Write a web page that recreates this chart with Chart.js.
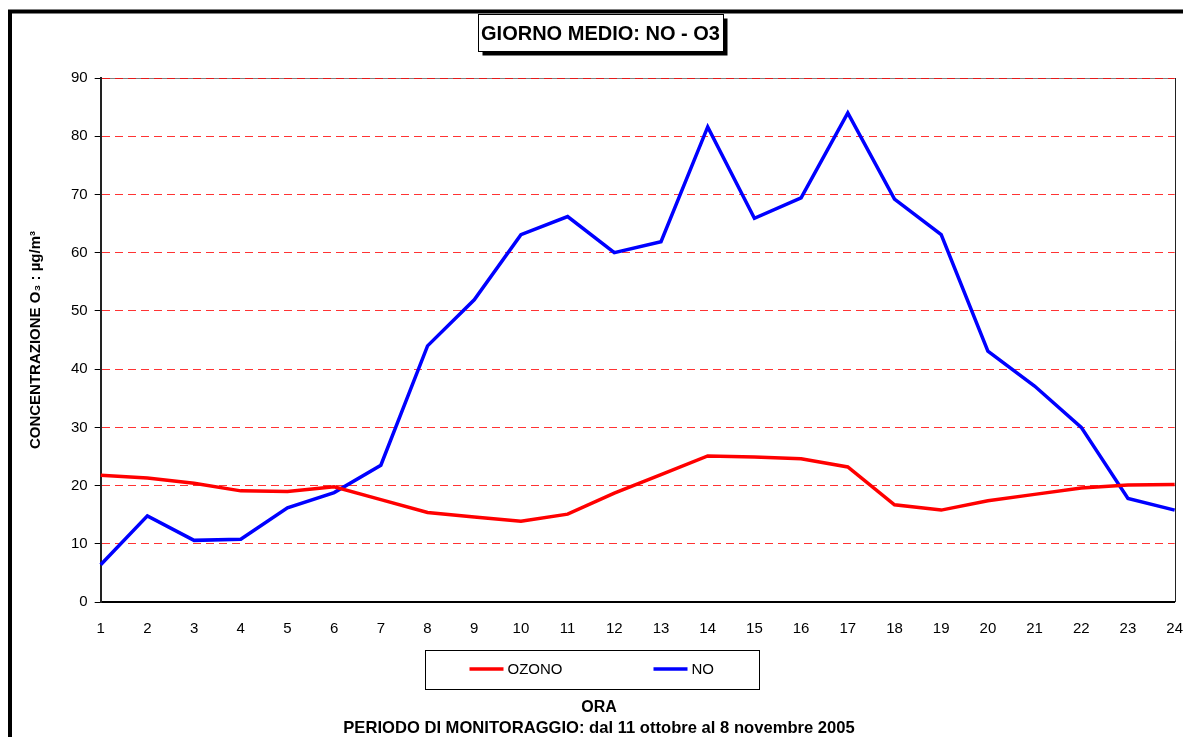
<!DOCTYPE html>
<html>
<head>
<meta charset="utf-8">
<script src="https://cdn.jsdelivr.net/npm/chart.js@4.4.0/dist/chart.umd.min.js"></script>
<style>
    html, body { margin: 0; padding: 0; background: #fff; }
</style>
</head>
<body>
<canvas id="line-chart" width="1183" height="737"></canvas>
<script>
// ore del giorno (asse x)
var ore = ['1','2','3','4','5','6','7','8','9','10','11','12',
           '13','14','15','16','17','18','19','20','21','22','23','24'];

// valori medi
var ozono = [21.8, 21.3, 20.4, 19.1, 19.0, 19.8, 17.6, 15.4, 14.6, 13.9, 15.1, 18.7,
             21.9, 25.1, 24.9, 24.6, 23.2, 16.7, 15.8, 17.4, 18.5, 19.6, 20.1, 20.2];
var no = [6.4, 14.8, 10.6, 10.8, 16.2, 18.8, 23.5, 44.0, 51.9, 63.1, 66.2, 60.0,
          61.9, 81.6, 65.9, 69.4, 84.0, 69.2, 63.1, 43.1, 37.1, 30.0, 17.8, 15.8];

var yMin = 0, yMax = 90, yStep = 10;

var titolo = 'GIORNO MEDIO: NO - O3';
var titoloY = 'CONCENTRAZIONE O\u2083 : \u00b5g/m\u00b3';
var titoloX = 'ORA';
var periodo = 'PERIODO DI MONITORAGGIO: dal 11 ottobre al 8 novembre 2005';

var FONT = "'Liberation Sans', Arial, sans-serif";
Chart.defaults.font.family = FONT;
Chart.defaults.color = '#000';

// cornice esterna, bordo del grafico e riquadro del titolo
var cornice = {
    id: 'cornice',
    beforeDraw: function(chart) {
        var ctx = chart.ctx, a = chart.chartArea;
        ctx.save();
        ctx.strokeStyle = '#000';
        ctx.lineWidth = 4;
        ctx.beginPath();
        ctx.moveTo(10, chart.height + 5);
        ctx.lineTo(10, 11.5);
        ctx.lineTo(chart.width + 5, 11.5);
        ctx.stroke();
        // bordo superiore e destro dell'area del grafico
        ctx.lineWidth = 1;
        ctx.strokeStyle = '#808080';
        ctx.beginPath();
        ctx.moveTo(a.left, Math.round(a.top) + 0.5);
        ctx.lineTo(a.right, Math.round(a.top) + 0.5);
        ctx.stroke();
        ctx.strokeStyle = '#222';
        ctx.beginPath();
        ctx.moveTo(Math.round(a.right) + 0.5, a.top);
        ctx.lineTo(Math.round(a.right) + 0.5, a.bottom);
        ctx.stroke();
        ctx.restore();
    },
    afterDraw: function(chart) {
        var ctx = chart.ctx;
        ctx.save();
        ctx.font = 'bold 20px ' + FONT;
        var w = ctx.measureText(titolo).width;
        var cx = chart.width / 2 + 9, cy = 33;
        var bx = Math.round(cx - w / 2 - 3) + 0.5, by = 14.5;
        var bw = Math.round(w + 6), bh = 37;
        ctx.fillStyle = '#000';
        ctx.fillRect(bx + 4, by + 4, bw, bh);
        ctx.fillStyle = '#fff';
        ctx.fillRect(bx, by, bw, bh);
        ctx.strokeStyle = '#000';
        ctx.lineWidth = 1;
        ctx.strokeRect(bx, by, bw, bh);
        ctx.fillStyle = '#000';
        ctx.textAlign = 'center';
        ctx.textBaseline = 'middle';
        ctx.fillText(titolo, cx, cy + 1);
        ctx.restore();
    }
};

// legenda riquadrata sotto l'asse x
var legendaBox = {
    id: 'legendaBox',
    afterDraw: function(chart) {
        var ctx = chart.ctx;
        var w = 334, h = 39;
        var x0 = Math.round(chart.width / 2 - w / 2) + 0.5;
        var y0 = Math.round(chart.titleBlock.bottom - 70) + 0.5;
        ctx.save();
        ctx.strokeStyle = '#000';
        ctx.lineWidth = 1;
        ctx.strokeRect(x0, y0, w, h);
        ctx.font = '15px ' + FONT;
        ctx.textBaseline = 'middle';
        ctx.textAlign = 'left';
        chart.data.datasets.forEach(function(ds, i) {
            var lx = x0 + 44 + i * 184, ly = y0 + 18.5;
            ctx.strokeStyle = ds.borderColor;
            ctx.lineWidth = ds.borderWidth;
            ctx.beginPath();
            ctx.moveTo(lx, ly);
            ctx.lineTo(lx + 34, ly);
            ctx.stroke();
            ctx.fillStyle = '#000';
            ctx.fillText(ds.label, lx + 38, ly + 1);
        });
        ctx.restore();
    }
};

var ctx = document.getElementById('line-chart').getContext('2d');
var lineChart = new Chart(ctx, {
    type: 'line',
    data: {
        labels: ore,
        datasets: [
            {
                label: 'OZONO',
                data: ozono,
                borderColor: '#ff0000',
                borderWidth: 3.5,
                pointRadius: 0,
                tension: 0,
                fill: false
            },
            {
                label: 'NO',
                data: no,
                borderColor: '#0000ff',
                borderWidth: 3.5,
                pointRadius: 0,
                tension: 0,
                fill: false
            }
        ]
    },
    options: {
        responsive: false,
        animation: false,
        devicePixelRatio: 1,
        layout: {
            padding: { left: 15, right: 0, top: 78, bottom: 0 }
        },
        plugins: {
            legend: { display: false },
            tooltip: { enabled: false },
            title: {
                display: true,
                position: 'bottom',
                text: titoloX,
                weight: 1200,
                font: { size: 16, weight: 'bold', lineHeight: 1 },
                padding: { top: 61.3, bottom: 5 }
            },
            subtitle: {
                display: true,
                position: 'bottom',
                text: periodo,
                weight: 1500,
                color: '#000',
                font: { size: 16.6, weight: 'bold', lineHeight: 1 },
                padding: { top: 0, bottom: 0 }
            }
        },
        scales: {
            x: {
                offset: false,
                grid: { display: false, drawTicks: true, tickLength: 18 },
                border: { display: true, color: '#000', width: 2 },
                ticks: {
                    color: '#000',
                    font: { size: 15 },
                    padding: 0,
                    maxRotation: 0,
                    autoSkip: false
                }
            },
            y: {
                min: yMin,
                max: yMax,
                ticks: {
                    stepSize: yStep,
                    color: '#000',
                    font: { size: 15 },
                    padding: 7
                },
                grid: {
                    color: function(c) {
                        return (c.tick && c.tick.value === 0) ? 'rgba(0,0,0,0)' : 'rgba(255,0,0,0.8)';
                    },
                    lineWidth: 1,
                    tickColor: '#000',
                    tickLength: 6,
                    drawTicks: true
                },
                border: { display: true, color: '#222', width: 2, dash: [8, 5] },
                title: {
                    display: true,
                    text: titoloY,
                    color: '#000',
                    font: { size: 15, weight: 'bold', lineHeight: 1.2 },
                    padding: { top: 12, bottom: 19 }
                }
            }
        }
    },
    plugins: [cornice, legendaBox]
});
</script>
</body>
</html>
